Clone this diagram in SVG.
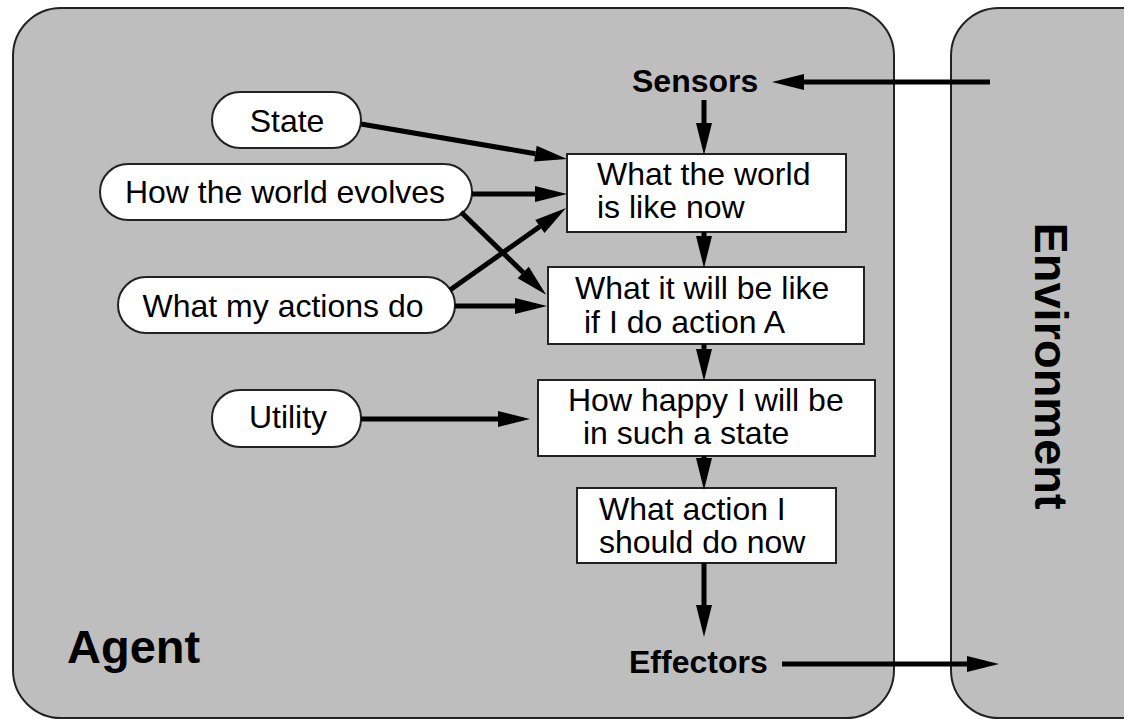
<svg xmlns="http://www.w3.org/2000/svg" width="1124" height="719" viewBox="0 0 1124 719">
<style>
.panel{fill:#bebebe;stroke:#222;stroke-width:2}
.oval{fill:#fff;stroke:#222;stroke-width:2}
.box{fill:#fff;stroke:#222;stroke-width:2}
.t{font-family:"Liberation Sans",Arial,sans-serif;font-size:32px;fill:#000}
.b{font-family:"Liberation Sans",Arial,sans-serif;font-weight:bold;fill:#000}
.c{text-anchor:middle}
.arr{stroke:#000;stroke-width:5;fill:none;marker-end:url(#ah)}
</style>
<defs>
<marker id="ah" markerUnits="userSpaceOnUse" markerWidth="34" markerHeight="18" refX="0" refY="8" orient="auto" overflow="visible">
<path d="M0,0 L32,8 L0,16 z" fill="#000"/>
</marker>
</defs>
<rect width="1124" height="719" fill="#fff"/>
<g id="environment">
<rect class="panel" x="951" y="8" width="260" height="710" rx="48"/>
<text class="b c" font-size="47" transform="translate(1035,366) rotate(90)">Environment</text>
</g>
<g id="agent">
<rect class="panel" x="13" y="8" width="881" height="710" rx="48"/>
<text class="b" font-size="47" x="67" y="663">Agent</text>
</g>
<g id="sensors"><text class="b" font-size="32" x="632" y="92">Sensors</text></g>
<g id="effectors"><text class="b" font-size="32" x="629" y="673">Effectors</text></g>
<g id="state">
<rect class="oval" x="212" y="92" width="149" height="56" rx="28"/>
<text class="t c" x="287" y="132">State</text>
</g>
<g id="evolves">
<rect class="oval" x="100" y="164" width="372" height="56" rx="28"/>
<text class="t c" x="285" y="203">How the world evolves</text>
</g>
<g id="actions">
<rect class="oval" x="118" y="277" width="337" height="56" rx="28"/>
<text class="t c" x="283" y="317">What my actions do</text>
</g>
<g id="utility">
<rect class="oval" x="212" y="390" width="149" height="57" rx="28"/>
<text class="t c" x="288" y="428">Utility</text>
</g>
<g id="world-now">
<rect class="box" x="567" y="154" width="279" height="78"/>
<text class="t" x="597" y="185">What the world</text>
<text class="t" x="597" y="218">is like now</text>
</g>
<g id="action-result">
<rect class="box" x="548" y="267" width="316" height="77"/>
<text class="t" x="575" y="299">What it will be like</text>
<text class="t" x="584" y="333">if I do action A</text>
</g>
<g id="happiness">
<rect class="box" x="538" y="380" width="337" height="76"/>
<text class="t" x="568" y="411">How happy I will be</text>
<text class="t" x="583" y="444">in such a state</text>
</g>
<g id="decision">
<rect class="box" x="577" y="488" width="259" height="75"/>
<text class="t" x="599" y="520">What action I</text>
<text class="t" x="599" y="553">should do now</text>
</g>
<g id="connectors">
<path class="arr" d="M990,82 L804,82"/>
<path class="arr" d="M704,100 L704,123"/>
<path class="arr" d="M361,124 L535.4,153.7"/>
<path class="arr" d="M472,194 L535,194"/>
<path class="arr" d="M461,212 L523.2,272.5"/>
<path class="arr" d="M450,290 L539.9,226.5"/>
<path class="arr" d="M455,306 L515,306"/>
<path class="arr" d="M361,419 L498,419"/>
<path class="arr" d="M704,232 L704,236"/>
<path class="arr" d="M704,344 L704,349"/>
<path class="arr" d="M704,456 L704,458"/>
<path class="arr" d="M704,563 L704,605"/>
<path class="arr" d="M782,664 L967,664"/>
</g>
</svg>
